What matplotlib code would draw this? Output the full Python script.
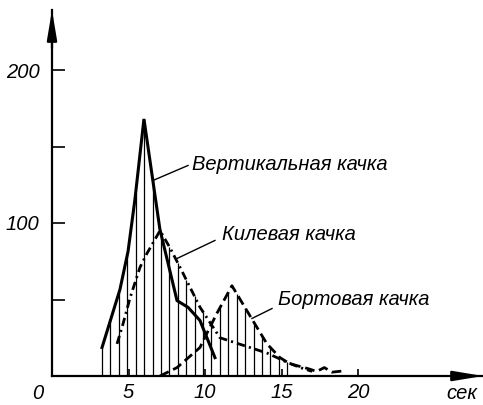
import numpy as np
import matplotlib
matplotlib.use("Agg")
import matplotlib.pyplot as plt

plt.rcParams['font.family'] = ['Liberation Sans', 'DejaVu Sans']
plt.rcParams['lines.scale_dashes'] = False

# --- data (period, sec ; count) ---
vert_x = [3.27, 4.44, 4.97, 5.42, 6.01, 7.05, 8.17, 8.9, 9.67, 10.65]
vert_y = [18.6, 56.5, 81.4, 115.4, 168, 96, 49.3, 44.8, 36.3, 12]

keel_x = [4.25, 4.64, 5.1, 5.75, 6.2, 7.06, 7.7, 8.37, 9.02, 9.67, 10.65, 10.98, 14.05, 15.36, 16.2, 17.0]
keel_y = [21, 34, 51, 71, 80, 95, 84, 71, 58, 45, 30, 25, 15, 9, 5.6, 3]

roll_x = [7.06, 8.17, 9.67, 10.13, 10.78, 11.76, 13.14, 14.05, 14.9, 15.55, 16.67, 17.3, 17.8, 18.3, 19.2]
roll_y = [0, 5.5, 18.6, 28, 41, 59, 36, 21, 12, 8, 5, 3, 5.5, 2.5, 3.5]

xticks = [5, 10, 15, 20]
yticks = [50, 100, 150, 200]
ytick_labels = ['', '100', '', '200']
labels = ['Вертикальная качка', 'Килевая качка', 'Бортовая качка']
xlabel = 'сек'

W, H = 483, 405
fig = plt.figure(figsize=(W / 100, H / 100), dpi=100)
ax = fig.add_axes([52 / W, 29 / H, 431 / W, 366 / H])
XMAX, YMAX = 431 / 15.3, 366 / 1.53
ax.set_xlim(0, XMAX)
ax.set_ylim(0, YMAX)

for s in ['top', 'right']:
    ax.spines[s].set_visible(False)
for s in ['left', 'bottom']:
    ax.spines[s].set_linewidth(1.6)

# hatch under envelope
hx = np.arange(3.27, 15.6, 0.55)
def curve_at(xs, ys, x):
    return np.interp(x, xs, ys, left=0, right=0)
env = np.maximum.reduce([curve_at(vert_x, vert_y, hx),
                         curve_at(keel_x, keel_y, hx),
                         curve_at(roll_x, roll_y, hx)])
ax.vlines(hx, 0, env, colors='black', linewidth=0.9)

ax.plot(vert_x, vert_y, color='black', lw=2.2, solid_joinstyle='miter')
ax.plot(keel_x, keel_y, color='black', lw=2.0, dashes=(6, 3, 1.5, 3))
ax.plot(roll_x, roll_y, color='black', lw=2.0, dashes=(7, 3.5))

fs = 14.5
tp = dict(style='italic', fontsize=fs, color='black')

ax.set_xticks(xticks)
ax.set_xticklabels([str(v) for v in xticks], **tp)
ax.set_yticks(yticks)
ax.set_yticklabels(ytick_labels, **tp)
ax.tick_params(axis='x', direction='in', length=5, width=1.2, pad=5)
ax.tick_params(axis='y', direction='in', length=9.5, width=1.2, pad=9)

ax.text(-0.92, -11.4, '0', ha='center', va='center', clip_on=False, **tp)
ax.text(26.8, -11.4, xlabel, ha='center', va='center', clip_on=False, **tp)

# arrows
ax.annotate('', xy=(XMAX, 0), xytext=(XMAX - 2, 0),
            arrowprops=dict(arrowstyle='-|>,head_length=1.8,head_width=0.3',
                            color='black', lw=1.6, shrinkA=0, shrinkB=0),
            annotation_clip=False)
ax.annotate('', xy=(0, YMAX), xytext=(0, YMAX - 25),
            arrowprops=dict(arrowstyle='-|>,head_length=1.8,head_width=0.3',
                            color='black', lw=1.6, shrinkA=0, shrinkB=0),
            annotation_clip=False)

# labels with leader lines
lead = [((6.6, 127.8), (8.89, 137.6), (9.15, 138.2)),
        ((8.17, 76.8), (10.65, 88.6), (11.1, 92.5)),
        ((13.07, 37.6), (14.38, 44.1), (14.77, 50.0))]
for (p0, p1, pt), lab in zip(lead, labels):
    ax.plot([p0[0], p1[0]], [p0[1], p1[1]], color='black', lw=1.0)
    ax.text(pt[0], pt[1], lab, ha='left', va='center', **tp)

fig.savefig('out.png', dpi=100)
